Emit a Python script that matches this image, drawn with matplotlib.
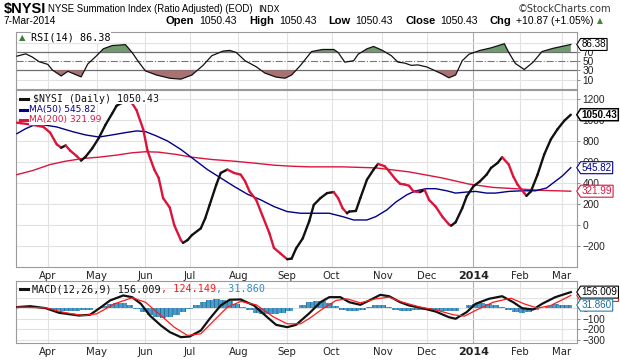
import numpy as np
import matplotlib
matplotlib.use("Agg")
import matplotlib.pyplot as plt
from matplotlib.path import Path
from matplotlib.lines import Line2D
from matplotlib.collections import LineCollection

# x values are trading sessions counted from 1-Apr-2013 (session 0)
HOLIDAYS = ['2013-03-29', '2013-05-27', '2013-07-04', '2013-09-02', '2013-11-28',
            '2013-12-25', '2014-01-01', '2014-01-20', '2014-02-17']
month_starts = ['2013-04-01', '2013-05-01', '2013-06-01', '2013-07-01', '2013-08-01',
                '2013-09-01', '2013-10-01', '2013-11-01', '2013-12-01', '2014-01-01',
                '2014-02-01', '2014-03-01']
month_labels = ['Apr', 'May', 'Jun', 'Jul', 'Aug', 'Sep', 'Oct', 'Nov', 'Dec', '2014', 'Feb', 'Mar']

nysi_t = [-14, -7, -2, 1, 4, 6, 8, 10, 13, 15, 17, 20, 23, 26, 29, 31, 33, 35, 38, 40,
          43, 45, 48, 50, 52, 55, 57, 60, 61, 63, 65, 69, 71, 73, 76, 78, 81, 84, 87, 89,
          91, 94, 97, 100, 102, 105, 108, 110, 112, 115, 118, 120, 123, 126, 129, 131, 133, 135, 136, 139,
          141, 144, 147, 149, 152, 154, 157, 159, 161, 163, 165, 168, 170, 172, 175, 178, 181, 182, 184, 187,
          189, 192, 195, 198, 200, 203, 205, 208, 210, 212, 215, 216, 218, 221, 224, 227, 230, 233, 236]
nysi_v = [975, 955, 934, 880, 768, 736, 758, 710, 656, 614, 650, 730, 830, 955, 1062, 1136, 1160, 1172, 1160, 1094,
          912, 704, 528, 448, 256, 166, 0, -144, -170, -144, -96, -32, 64, 192, 384, 496, 528, 496, 480, 416,
          320, 240, 80, -80, -218, -272, -326, -320, -224, -128, 40, 192, 256, 304, 314, 256, 160, 112, 128, 134,
          256, 432, 528, 582, 560, 512, 432, 392, 386, 374, 320, 314, 336, 240, 176, 80, 6, -6, 26, 160,
          272, 368, 416, 480, 544, 592, 646, 576, 464, 384, 304, 278, 320, 480, 672, 816, 912, 992, 1050.43]

ma50_t = [-14, -10, -6, -2, 4, 11, 17, 23, 29, 35, 40, 44, 49, 54, 60, 66, 72, 78, 84, 90,
          96, 102, 108, 114, 118, 127, 133, 138, 144, 148, 153, 157, 162, 166, 171, 175, 180, 184, 189, 193,
          198, 202, 208, 214, 220, 225, 229, 232, 236]
ma50_v = [870, 918, 954, 954, 934, 890, 858, 838, 858, 880, 896, 890, 848, 800, 720, 624, 528, 448, 368, 294,
          240, 176, 128, 112, 112, 112, 80, 48, 48, 80, 144, 218, 288, 326, 346, 346, 326, 304, 314, 320,
          304, 304, 320, 326, 326, 352, 416, 464, 545.82]

ma200_t = [-14, -7, 1, 8, 16, 23, 31, 38, 44, 50, 58, 65, 74, 84, 92, 102, 110, 118, 133, 148,
           163, 178, 190, 201, 211, 223, 236]
ma200_v = [480, 518, 576, 608, 634, 646, 666, 688, 698, 694, 672, 646, 624, 608, 592, 570, 560, 554, 554, 544,
           506, 448, 390, 358, 346, 330, 321.99]

rsi_t = [-14, -10, -7, -4, 0, 2, 6, 9, 11, 15, 18, 22, 25, 29, 35, 38, 41, 44, 49, 55,
         60, 65, 70, 74, 79, 82, 85, 89, 94, 98, 103, 107, 110, 114, 119, 124, 129, 131, 134, 138,
         140, 144, 147, 151, 155, 158, 161, 164, 167, 171, 174, 178, 181, 184, 187, 190, 195, 200, 206, 208,
         211, 215, 219, 223, 228, 236]
rsi_v = [61, 66, 59, 49, 43, 31, 18, 28, 24, 16, 44, 62, 77, 84, 86, 69, 48, 29, 20, 13,
         11, 20, 41, 62, 72, 73.5, 69, 51, 38, 24, 15.5, 13, 20, 41, 71, 75.5, 75.5, 69, 48, 51,
         65, 77, 82, 73.5, 62, 48, 46, 41, 42, 37.5, 31, 22, 14, 20, 51, 65, 73.5, 79, 88, 69,
         45, 32, 48, 71, 78, 86.38]

macd_t = [-14, -8, -1, 5, 14, 19, 24, 28, 34, 38, 42, 46, 51, 55, 60, 64, 69, 73, 78, 82,
          87, 93, 99, 103, 108, 112, 118, 123, 127, 132, 136, 141, 145, 150, 154, 159, 163, 169, 175, 181,
          184, 189, 193, 199, 205, 210, 214, 219, 223, 229, 236]
macd_v = [13, 22, 3, -41, -67, -60, 13, 76, 124, 108, 44, -67, -162, -225, -273, -267, -210, -98, 29, 83,
          86, 29, -83, -156, -178, -156, -45, 60, 108, 108, 60, 35, 76, 130, 117, 60, 29, 3, -29, -83,
          -98, -35, 44, 92, 117, 60, 3, -10, 44, 108, 156.009]

signal_t = [-14, -1, 8, 16, 22, 30, 38, 44, 51, 57, 63, 69, 75, 81, 87, 94, 102, 108, 114, 118,
            124, 130, 135, 141, 148, 154, 160, 168, 175, 183, 188, 193, 201, 209, 215, 221, 227, 236]
signal_v = [13, 6, -41, -67, -51, 44, 102, 60, -67, -178, -257, -241, -114, 13, 67, 35, -83, -146, -146, -95,
            -3, 76, 92, 54, 92, 108, 60, 13, -13, -60, -73, -19, 60, 98, 44, 3, 29, 124.149]

hist_t = list(range(-14, 236, 3))
hist_v = [5, 10, 12, 10, 5, -5, -15, -22, -25, -22, -18, -10, 5, 25, 45, 55, 50, 30, -5, -35,
          -65, -85, -90, -80, -60, -35, -5, 30, 65, 85, 90, 85, 70, 45, 15, -15, -40, -55, -57, -50,
          -40, -25, 0, 35, 60, 72, 70, 55, 25, -10, -25, -25, -10, 12, 32, 35, 12, -10, -20, -22,
          -18, -12, -14, -18, -24, -28, -20, 5, 30, 45, 48, 42, 30, 12, -15, -32, -40, -35, -15, 8,
          25, 38, 36, 32]

W, H = 620, 360
NAVY = '#00008b'
CRIMSON = '#dc143c'
GRID = '#e2e2e2'
ARIAL = 'Liberation Sans'
MONO = 'DejaVu Sans Mono'

month_x = [np.busday_count('2013-04-01', np.busday_offset(d, 0, roll='forward', holidays=HOLIDAYS),
                           holidays=HOLIDAYS) for d in month_starts]


def fx(x):
    return x / W


def fy(y):
    return 1 - y / H


def tag_box(x0, y0, width, height, mutation_size):
    pad = mutation_size * 0.1
    x0, y0 = x0 - pad, y0 - pad
    w, h = width + 2 * pad, height + 2 * pad
    tip = h * 0.32
    verts = [(x0 - tip, y0 + h / 2), (x0, y0 + h), (x0 + w, y0 + h), (x0 + w, y0), (x0, y0),
             (x0 - tip, y0 + h / 2)]
    return Path(verts, closed=True)


def tag(ax, y, text, edge, tc, weight='normal', lw=0.8, z=10):
    ax.annotate(text, xy=(1, y), xycoords=('axes fraction', 'data'), xytext=(3.3, 0),
                textcoords='offset points', va='center', ha='left', fontsize=7.1, color=tc,
                family=ARIAL, fontweight=weight, annotation_clip=False, zorder=z,
                bbox=dict(boxstyle=tag_box, fc='white', ec=edge, lw=lw))


fig = plt.figure(figsize=(W / 100, H / 100), dpi=100)
L, R = 16, 577
ax_rsi = fig.add_axes([fx(L), fy(89), (R - L) / W, (89 - 32) / H])
ax = fig.add_axes([fx(L), fy(267), (R - L) / W, (267 - 90) / H])
ax_macd = fig.add_axes([fx(L), fy(343), (R - L) / W, (343 - 281) / H])

for a in (ax_rsi, ax, ax_macd):
    a.set_xlim(-14.4, 238.8)
    for s in a.spines.values():
        s.set_color('#9a9a9a')
        s.set_linewidth(0.8)
    a.yaxis.tick_right()
    a.tick_params(axis='y', length=2.5, width=0.6, color='#777777', pad=1.5,
                  labelsize=7.3, labelcolor='#222222')
    a.set_xticks(month_x)
    a.tick_params(axis='x', length=0, pad=3, labelsize=7.3, labelcolor='#222222')
    for mx, lab in zip(month_x, month_labels):
        a.axvline(mx, color='#b0b0b0' if lab == '2014' else GRID, lw=0.8, zorder=0)
    a.set_facecolor('white')

# RSI panel
ax_rsi.set_ylim(-10.4, 113.5)
ax_rsi.set_yticks([10, 30, 50, 70])
ax_rsi.set_xticklabels([])
for g in (10, 90):
    ax_rsi.axhline(g, color=GRID, lw=0.8, zorder=0)
ax_rsi.axhline(70, color='#6e6e6e', lw=0.9, zorder=1)
ax_rsi.axhline(30, color='#6e6e6e', lw=0.9, zorder=1)
ax_rsi.axhline(50, color='#777777', lw=0.8, ls='-.', zorder=1)
rt = np.array(rsi_t)
rv = np.array(rsi_v)
ax_rsi.fill_between(rt, rv, 70, where=rv >= 70, interpolate=True, color='#6f9b6f', lw=0, zorder=2)
ax_rsi.fill_between(rt, rv, 30, where=rv <= 30, interpolate=True, color='#a87272', lw=0, zorder=2)
ax_rsi.plot(rt, rv, color='#111111', lw=0.9, zorder=3)
tag(ax_rsi, rsi_v[-1], '86.38', 'black', 'black')

# main panel
ax.set_ylim(-400, 1286)
ax.set_yticks(range(-200, 1201, 200))
for g in range(-200, 1201, 200):
    ax.axhline(g, color=GRID, lw=0.8, zorder=0)
ax.plot(ma200_t, ma200_v, color=CRIMSON, lw=1.0, zorder=3)
ax.plot(ma50_t, ma50_v, color=NAVY, lw=1.0, zorder=3)
segs = [[(nysi_t[i], nysi_v[i]), (nysi_t[i + 1], nysi_v[i + 1])] for i in range(len(nysi_t) - 1)]
cols = ['#111111' if nysi_v[i + 1] >= nysi_v[i] else CRIMSON for i in range(len(nysi_t) - 1)]
ax.add_collection(LineCollection(segs, colors=cols, linewidths=1.7, capstyle='round', zorder=4))
ax.set_xticklabels(month_labels)
tag(ax, 321.99, '321.99', CRIMSON, CRIMSON)
tag(ax, 545.82, '545.82', NAVY, NAVY)
tag(ax, 1050.43, '1050.43', 'black', 'black', weight='bold', lw=1.1)

# MACD panel
ax_macd.set_ylim(-329, 262)
ax_macd.set_yticks(range(-300, 101, 100))
for g in range(-300, 201, 100):
    ax_macd.axhline(g, color=GRID, lw=0.8, zorder=0)
plt.rcParams['hatch.linewidth'] = 0.5
ax_macd.bar(hist_t, hist_v, width=3, color='#4a9ccb', edgecolor='#1e5f88', hatch='||||', lw=0, zorder=2)
ax_macd.plot(macd_t, macd_v, color='#111111', lw=1.6, zorder=3)
ax_macd.plot(signal_t, signal_v, color='#ff1a1a', lw=0.9, zorder=4)
ax_macd.set_xticklabels(month_labels)
tag(ax_macd, 124.149, '124.149', '#ff1a1a', '#ff1a1a', z=10)
tag(ax_macd, 156.009, '156.009', 'black', 'black', z=11)
tag(ax_macd, 31.86, '31.860', '#2e7fae', '#1d6a99', z=12)

for a in (ax_rsi, ax, ax_macd):
    for lab in a.get_yticklabels():
        lab.set_family(ARIAL)
for a in (ax, ax_macd):
    for lab in a.get_xticklabels():
        if lab.get_text() == '2014':
            lab.set_fontweight('bold')
            lab.set_fontsize(8)

renderer = fig.canvas.get_renderer()

# header
fig.text(fx(4), fy(9), '$NYSI', fontsize=10.5, fontweight='bold', family=ARIAL,
         va='center', ha='left')
fig.text(fx(48), fy(9), 'NYSE Summation Index (Ratio Adjusted) (EOD)', fontsize=6.9,
         family=ARIAL, va='center', ha='left')
fig.text(fx(258), fy(9.5), 'INDX', fontsize=6.2, family='DejaVu Sans', va='center', ha='left')
fig.text(fx(611), fy(9), '\u00a9StockCharts.com', fontsize=7.1, color='#333333',
         family='DejaVu Sans', va='center', ha='right')
fig.text(fx(4), fy(21), '7-Mar-2014', fontsize=7.3, family=ARIAL, va='center', ha='left')

# quote line, laid out left to right and right-aligned before the arrow
quote = [('Open', 'bold'), ('1050.43', 'normal'), ('High', 'bold'), ('1050.43', 'normal'),
         ('Low', 'bold'), ('1050.43', 'normal'), ('Close', 'bold'), ('1050.43', 'normal'),
         ('Chg', 'bold'), ('+10.87 (+1.05%)', 'normal')]
items = []
for s, wt in quote:
    t = fig.text(0, fy(21), s, fontsize=8.0 if wt == 'bold' else 7.5, fontweight=wt,
                 family=ARIAL, va='center', ha='left')
    items.append((t, t.get_window_extent(renderer).width, wt))
GAP_L, GAP_V = 5, 12
total = sum(w + (GAP_L if wt == 'bold' else GAP_V) for _, w, wt in items) - GAP_V
x = 594 - total
for t, w, wt in items:
    t.set_x(fx(x))
    x += w + (GAP_L if wt == 'bold' else GAP_V)
fig.text(fx(597), fy(21), '\u25b2', fontsize=5.5, color='#3a8a3a', va='center', ha='left')

# panel labels
fig.text(fx(19), fy(37.5), '\u25b2', fontsize=6, color='#3f7a3f', va='center', ha='left', zorder=20)
fig.text(fx(31), fy(37.5), 'RSI(14) 86.38', fontsize=7.3, family=MONO, va='center', ha='left',
         zorder=20, bbox=dict(fc='white', ec='none', pad=0.3))

legend = [('$NYSI (Daily) 1050.43', '#111111', MONO, 7.1, 99, 33),
          ('MA(50) 545.82', NAVY, 'DejaVu Sans', 6.5, 109.5, 29),
          ('MA(200) 321.99', CRIMSON, 'DejaVu Sans', 6.5, 120, 29)]
for text, color, fam, size, y, x in legend:
    fig.add_artist(Line2D([fx(20), fx(28)], [fy(y), fy(y)], color=color, lw=2.2, zorder=20))
    fig.text(fx(x), fy(y), text, color=color, family=fam, fontsize=size, va='center', ha='left',
             zorder=20, bbox=dict(fc='white', ec='none', pad=0.2))

fig.add_artist(Line2D([fx(20), fx(28)], [fy(289), fy(289)], color='#111111', lw=2.2, zorder=20))
x = 32
for s, color in [('MACD(12,26,9) 156.009', '#111111'), (', 124.149', '#ff1a1a'), (', 31.860', '#2e8fc8')]:
    t = fig.text(fx(x), fy(289), s, color=color, family=MONO, fontsize=7.3, va='center', ha='left',
                 zorder=20)
    x += t.get_window_extent(renderer).width

fig.savefig('out.png', dpi=100)
